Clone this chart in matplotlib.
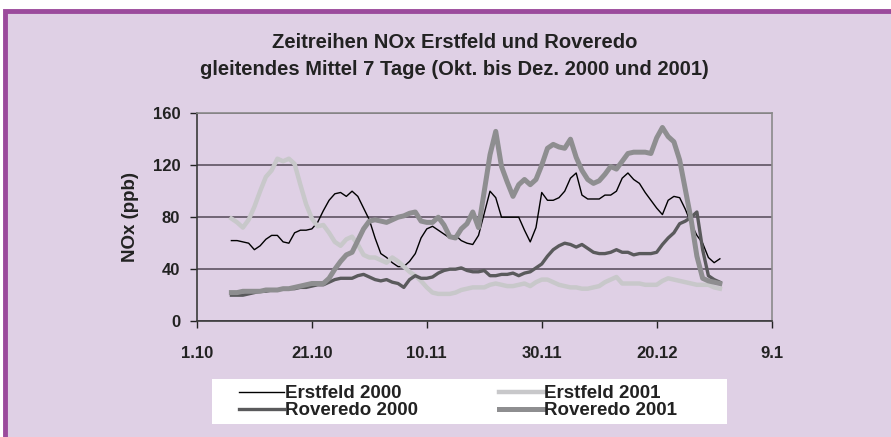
import numpy as np
import pandas as pd
import matplotlib
matplotlib.use("Agg")
import matplotlib.pyplot as plt
import matplotlib.dates as mdates
from matplotlib.ticker import FuncFormatter

plt.rcParams['font.family'] = ['Liberation Sans', 'DejaVu Sans']
plt.rcParams['font.weight'] = 'bold'

# 7-day moving average, daily from 7.10 to 31.12
start_date = "2000-10-07"

erstfeld_2000 = [62, 62, 61, 60, 55, 58, 63, 66, 66, 61, 60, 68, 70, 70, 71, 76, 85, 93, 98, 99,
                 96, 100, 96, 87, 78, 64, 52, 49, 45, 42, 42, 46, 52, 64, 71, 73, 70, 67, 64, 66,
                 62, 60, 59, 66, 83, 100, 95, 80, 80, 80, 80, 70, 61, 72, 99, 93, 93, 95, 100, 110,
                 114, 97, 94, 94, 94, 97, 97, 100, 110, 114, 109, 106, 99, 93, 87, 82, 93, 96, 95, 86,
                 75, 66, 60, 49, 45, 48]

erstfeld_2001 = [79, 76, 72, 78, 88, 100, 111, 116, 125, 123, 125, 121, 105, 90, 79, 73, 74, 68, 61, 58,
                 63, 65, 59, 51, 49, 49, 47, 45, 49, 46, 42, 38, 35, 31, 26, 22, 21, 21, 21, 22,
                 24, 25, 26, 26, 26, 28, 29, 28, 27, 27, 28, 29, 27, 30, 32, 32, 30, 28, 27, 26,
                 26, 25, 25, 26, 27, 30, 32, 34, 29, 29, 29, 29, 28, 28, 28, 31, 33, 32, 31, 30,
                 29, 28, 28, 28, 26, 25]

roveredo_2000 = [20, 20, 20, 21, 22, 23, 23, 24, 24, 25, 25, 25, 26, 26, 27, 28, 28, 30, 32, 33,
                 33, 33, 35, 36, 34, 32, 31, 32, 30, 29, 26, 32, 35, 33, 33, 34, 37, 39, 40, 40,
                 41, 39, 38, 38, 39, 35, 35, 36, 36, 37, 35, 37, 38, 41, 44, 50, 55, 58, 60, 59,
                 57, 59, 56, 53, 52, 52, 53, 55, 53, 53, 51, 52, 52, 52, 53, 59, 64, 68, 75, 77,
                 80, 84, 55, 35, 32, 30]

roveredo_2001 = [22, 22, 23, 23, 23, 23, 24, 24, 24, 25, 25, 26, 27, 28, 29, 29, 29, 33, 40, 46,
                 51, 53, 62, 71, 77, 78, 77, 76, 78, 80, 81, 83, 84, 77, 76, 76, 80, 74, 65, 64,
                 71, 75, 84, 72, 100, 128, 146, 119, 107, 96, 105, 109, 105, 109, 120, 133, 136, 134, 133, 140,
                 126, 116, 109, 106, 108, 113, 119, 117, 123, 129, 130, 130, 130, 129, 141, 149, 142, 138, 124, 101,
                 78, 50, 33, 31, 30, 29]

labels = ["Erstfeld 2000", "Erstfeld 2001", "Roveredo 2000", "Roveredo 2001"]
y_ticks = [0, 40, 80, 120, 160]
x_ticks = ["2000-10-01", "2000-10-21", "2000-11-10", "2000-11-30", "2000-12-20", "2001-01-09"]

bg = "#dfd0e5"
dates = pd.date_range(start_date, periods=len(erstfeld_2000), freq="D")

fig = plt.figure(figsize=(8.91, 4.37), dpi=100, facecolor="white")
# lavender panel with purple frame
fig.patches.append(plt.Rectangle((0.006, -0.01), 1.0, 0.985, transform=fig.transFigure,
                                 facecolor=bg, edgecolor="#9b4a9c", linewidth=3.5, zorder=-10))
# white legend box (wider than its content, like the original)
fig.patches.append(plt.Rectangle((212 / 891, 1 - 424 / 437), 515 / 891, 45 / 437, transform=fig.transFigure,
                                 facecolor="white", edgecolor="none", zorder=-5))

ax = fig.add_axes([0.221, 0.265, 0.645, 0.476])
ax.set_facecolor(bg)

ax.plot(dates, erstfeld_2000, color="black", lw=1.0, label=labels[0], zorder=3)
ax.plot(dates, erstfeld_2001, color="#c8c8ca", lw=3.2, label=labels[1], zorder=3)
ax.plot(dates, roveredo_2000, color="#5a5a5c", lw=2.4, label=labels[2], zorder=3)
ax.plot(dates, roveredo_2001, color="#8e8e90", lw=3.6, label=labels[3], zorder=3)

ax.set_xlim(pd.Timestamp(x_ticks[0]), pd.Timestamp(x_ticks[-1]))
ax.set_ylim(0, 160)
ax.set_yticks(y_ticks)
ax.set_xticks([pd.Timestamp(t) for t in x_ticks])
ax.xaxis.set_major_formatter(FuncFormatter(lambda v, p: "{}.{}".format(mdates.num2date(v).day, mdates.num2date(v).month)))
ax.yaxis.grid(True, color="#5e5262", lw=1.2)
ax.set_axisbelow(True)

for s in ["top", "right"]:
    ax.spines[s].set_color("#8a8a8a")
    ax.spines[s].set_linewidth(1.2)
for s in ["left", "bottom"]:
    ax.spines[s].set_color("#3a3a3a")
    ax.spines[s].set_linewidth(1.2)

ax.tick_params(axis="both", labelsize=12, colors="#222222", length=5, width=1.0)
ax.tick_params(axis="x", pad=13)
ax.tick_params(axis="y", pad=7)
for lab in ax.get_xticklabels() + ax.get_yticklabels():
    lab.set_fontweight("bold")

ax.set_ylabel("NOx (ppb)", fontsize=13.5, fontweight="bold", color="#222222", labelpad=10)

fig.text(0.51, 0.903, "Zeitreihen NOx Erstfeld und Roveredo", ha="center", va="center",
         fontsize=14.5, fontweight="bold", color="#222222")
fig.text(0.51, 0.84, "gleitendes Mittel 7 Tage (Okt. bis Dez. 2000 und 2001)", ha="center", va="center",
         fontsize=14.5, fontweight="bold", color="#222222")

h, l = ax.get_legend_handles_labels()
order = [0, 2, 1, 3]
leg = fig.legend([h[i] for i in order], [l[i] for i in order], ncol=2,
                 loc="upper left", bbox_to_anchor=(239 / 891, 1 - 385 / 437), frameon=False,
                 prop={"size": 13.5, "weight": "bold"}, handlelength=2.4, handletextpad=0.05,
                 columnspacing=4.3, labelspacing=0.0, borderpad=0.0, borderaxespad=0.0)
for t in leg.get_texts():
    t.set_color("#222222")

fig.savefig("out.png", dpi=100, facecolor="white")
